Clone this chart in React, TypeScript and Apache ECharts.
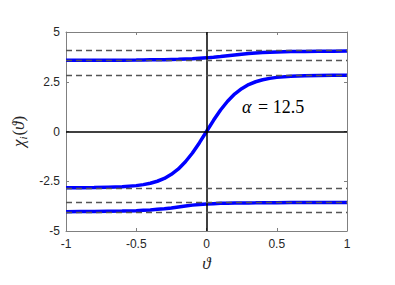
import React, { useEffect, useRef } from "react";
import * as echarts from "echarts";

const theta = [-1, -0.9, -0.8, -0.7, -0.6, -0.5, -0.45, -0.4, -0.35, -0.3, -0.25, -0.2, -0.15, -0.1, -0.05, 0, 0.05, 0.1, 0.15, 0.2, 0.25, 0.3, 0.35, 0.4, 0.45, 0.5, 0.6, 0.7, 0.8, 0.9, 1];
const upper = [3.58, 3.58, 3.58, 3.582, 3.585, 3.59, 3.595, 3.6, 3.605, 3.61, 3.62, 3.63, 3.645, 3.66, 3.68, 3.7, 3.73, 3.765, 3.805, 3.845, 3.885, 3.92, 3.945, 3.965, 3.985, 3.995, 4.015, 4.025, 4.03, 4.035, 4.04];
const middle = [-2.83, -2.83, -2.82, -2.8, -2.78, -2.72, -2.67, -2.6, -2.5, -2.36, -2.15, -1.88, -1.52, -1.08, -0.56, 0, 0.56, 1.08, 1.52, 1.88, 2.15, 2.36, 2.5, 2.6, 2.67, 2.72, 2.78, 2.8, 2.82, 2.83, 2.83];
const lower = [-4.03, -4.025, -4.02, -4.01, -4.0, -3.98, -3.96, -3.94, -3.91, -3.88, -3.84, -3.79, -3.745, -3.7, -3.665, -3.64, -3.625, -3.61, -3.6, -3.595, -3.59, -3.587, -3.585, -3.58, -3.578, -3.575, -3.573, -3.572, -3.571, -3.57, -3.57];
const dashedLevels = [4.07, 3.58, 2.84, -2.84, -3.58, -4.05];
const xTicks = { min: -1, max: 1, interval: 0.5 };
const yTicks = { min: -5, max: 5, interval: 2.5 };

const pair = (ys: number[]) => theta.map((x, i) => [x, ys[i]]);

export default function App() {
  const ref = useRef<HTMLDivElement>(null);
  useEffect(() => {
    document.body.style.margin = "0";
    if (!ref.current) return;
    const chart = echarts.init(ref.current, null, { renderer: "svg" });
    const axisColor = "#808080";
    const labelColor = "#262626";
    const curveStyle = { color: "#0000ff", width: 3.5 };
    chart.setOption({
      animation: false,
      grid: { left: 66, right: 48, top: 32, bottom: 54 },
      xAxis: [
        {
          type: "value",
          ...xTicks,
          position: "bottom",
          name: "ϑ",
          nameLocation: "middle",
          nameGap: 23,
          nameTextStyle: { fontFamily: "Liberation Serif", fontStyle: "italic", fontSize: 17, color: labelColor },
          axisLine: { onZero: false, lineStyle: { color: axisColor } },
          axisTick: { inside: true, length: 3, lineStyle: { color: axisColor } },
          axisLabel: { color: labelColor, fontFamily: "Liberation Sans", fontSize: 12, margin: 7, formatter: (v: number) => String(v) },
          splitLine: { show: false },
        },
        {
          type: "value",
          ...xTicks,
          position: "top",
          axisLine: { onZero: false, lineStyle: { color: axisColor } },
          axisTick: { inside: true, length: 3, lineStyle: { color: axisColor } },
          axisLabel: { show: false },
          splitLine: { show: false },
        },
      ],
      yAxis: [
        {
          type: "value",
          ...yTicks,
          position: "left",
          name: "{c|χ}{s|i}{p|(}{c|ϑ}{p|)}",
          nameLocation: "middle",
          nameGap: 38,
          nameRotate: 90,
          nameTextStyle: {
            color: labelColor,
            rich: {
              c: { fontFamily: "Liberation Serif", fontStyle: "italic", fontSize: 17, color: labelColor },
              s: { fontFamily: "Liberation Serif", fontStyle: "italic", fontSize: 11, color: labelColor, verticalAlign: "bottom", padding: [9, 1, 0, 0] },
              p: { fontFamily: "Liberation Serif", fontSize: 17, color: labelColor },
            },
          },
          axisLine: { onZero: false, lineStyle: { color: axisColor } },
          axisTick: { inside: true, length: 3, lineStyle: { color: axisColor } },
          axisLabel: { color: labelColor, fontFamily: "Liberation Sans", fontSize: 12, margin: 6 },
          splitLine: { show: false },
        },
        {
          type: "value",
          ...yTicks,
          position: "right",
          axisLine: { onZero: false, lineStyle: { color: axisColor } },
          axisTick: { inside: true, length: 3, lineStyle: { color: axisColor } },
          axisLabel: { show: false },
          splitLine: { show: false },
        },
      ],
      series: [
        {
          type: "line",
          data: [],
          silent: true,
          z: 1,
          markLine: {
            silent: true,
            symbol: "none",
            label: { show: false },
            lineStyle: { color: "#000000", width: 1.5, type: "solid" },
            data: [{ xAxis: 0 }, { yAxis: 0 }],
          },
        },
        {
          type: "line",
          data: [],
          silent: true,
          z: 1,
          markLine: {
            silent: true,
            symbol: "none",
            label: { show: false },
            lineStyle: { color: "#555555", width: 1.3, type: [6, 4] },
            data: dashedLevels.map((v) => ({ yAxis: v })),
          },
        },
        ...[upper, middle, lower].map((ys) => ({
          type: "line",
          data: pair(ys),
          showSymbol: false,
          smooth: false,
          lineStyle: curveStyle,
          z: 3,
        })),
      ],
      graphic: [
        {
          type: "text",
          left: 242,
          top: 98,
          style: {
            text: "α",
            fontFamily: "Liberation Serif",
            fontStyle: "italic",
            fontSize: 18,
            fill: "#000",
          },
        },
        {
          type: "text",
          left: 258,
          top: 98,
          style: {
            text: "= 12.5",
            fontFamily: "Liberation Serif",
            fontSize: 18,
            fill: "#000",
          },
        },
      ],
    });
    return () => chart.dispose();
  }, []);
  return <div ref={ref} style={{ width: 395, height: 285 }} />;
}
